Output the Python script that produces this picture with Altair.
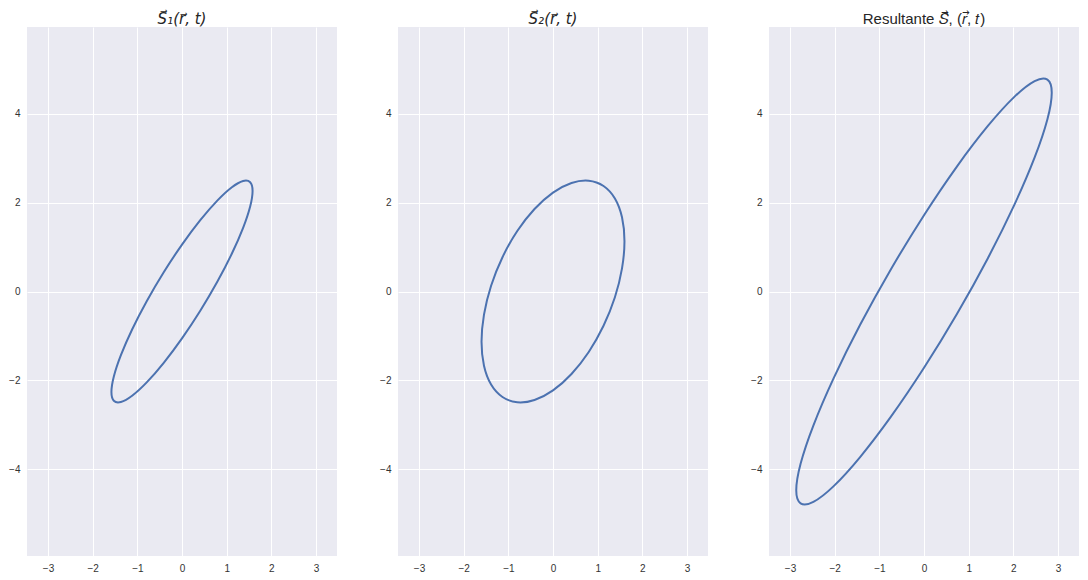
import altair as alt
import pandas as pd

s1_x = [1.580, 1.526, 1.368, 1.117, 0.790, 0.409, 0.000, -0.409, -0.790, -1.117, -1.368, -1.526,
        -1.580, -1.526, -1.368, -1.117, -0.790, -0.409, 0.000, 0.409, 0.790, 1.117, 1.368, 1.526]
s1_y = [2.266, 2.462, 2.490, 2.349, 2.048, 1.607, 1.057, 0.434, -0.218, -0.855, -1.434, -1.915,
        -2.266, -2.462, -2.490, -2.349, -2.048, -1.607, -1.057, -0.434, 0.218, 0.855, 1.434, 1.915]

s2_x = [1.600, 1.545, 1.386, 1.131, 0.800, 0.414, 0.000, -0.414, -0.800, -1.131, -1.386, -1.545,
        -1.600, -1.545, -1.386, -1.131, -0.800, -0.414, 0.000, 0.414, 0.800, 1.131, 1.386, 1.545]
s2_y = [1.135, 1.673, 2.097, 2.378, 2.497, 2.445, 2.228, 1.858, 1.362, 0.773, 0.131, -0.520,
        -1.135, -1.673, -2.097, -2.378, -2.497, -2.445, -2.228, -1.858, -1.362, -0.773, -0.131, 0.520]

s3_x = [2.860, 2.763, 2.477, 2.022, 1.430, 0.740, 0.000, -0.740, -1.430, -2.022, -2.477, -2.763,
        -2.860, -2.763, -2.477, -2.022, -1.430, -0.740, 0.000, 0.740, 1.430, 2.022, 2.477, 2.763]
s3_y = [4.481, 4.774, 4.741, 4.385, 3.730, 2.821, 1.720, 0.502, -0.751, -1.952, -3.021, -3.883,
        -4.481, -4.774, -4.741, -4.385, -3.730, -2.821, -1.720, -0.502, 0.751, 1.952, 3.021, 3.883]

titles = ["S\u20d7\u2081(r\u20d7, t)", "S\u20d7\u2082(r\u20d7, t)", "Resultante 𝑆\u20d7, (𝑟\u20d7, 𝑡)"]
x_ticks = [-3, -2, -1, 0, 1, 2, 3]
y_ticks = [-4, -2, 0, 2, 4]
x_domain = [-3.47, 3.47]
y_domain = [-5.96, 5.96]


def panel(xs, ys, title, font, style):
    df = pd.DataFrame({"x": xs, "y": ys, "i": list(range(len(xs)))})
    return (
        alt.Chart(df)
        .mark_line(color="#4C72B0", strokeWidth=2, interpolate="cardinal-closed")
        .encode(
            x=alt.X("x:Q", scale=alt.Scale(domain=x_domain, nice=False, zero=False),
                    axis=alt.Axis(values=x_ticks, title=None, format="d")),
            y=alt.Y("y:Q", scale=alt.Scale(domain=y_domain, nice=False, zero=False),
                    axis=alt.Axis(values=y_ticks, title=None, format="d")),
            order="i:Q",
        )
        .properties(
            width=310, height=529,
            title=alt.TitleParams(title, font=font, fontSize=15, fontWeight="normal",
                                  fontStyle=style, color="#262626", frame="group", offset=0),
        )
    )


c1 = panel(s1_x, s1_y, titles[0], "DejaVu Sans", "italic")
c2 = panel(s2_x, s2_y, titles[1], "DejaVu Sans", "italic")
c3 = panel(s3_x, s3_y, titles[2], "Liberation Sans", "normal")

chart = (
    alt.hconcat(c1, c2, c3, spacing=61, bounds="flush")
    .properties(padding={"left": 0, "top": 4, "right": 0, "bottom": 0})
    .configure_view(fill="#EAEAF2", stroke=None)
    .configure_axis(
        domain=False, ticks=False, grid=True, gridColor="#FFFFFF", gridWidth=1,
        labelFont="Liberation Sans", labelFontSize=10, labelColor="#333333", labelPadding=7,
    )
)

chart.save("out.html", embed_options={"renderer": "svg", "actions": False})
